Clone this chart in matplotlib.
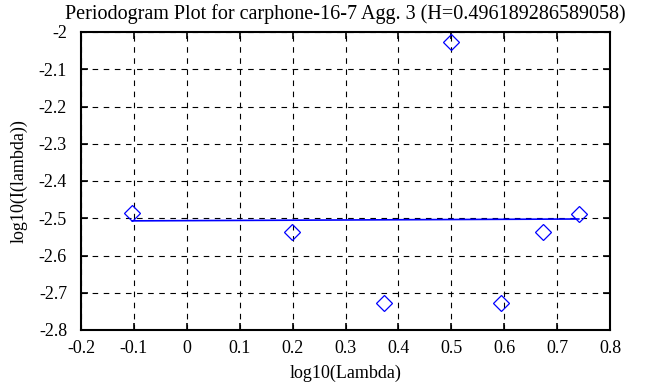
import matplotlib
matplotlib.use("Agg")
import matplotlib.pyplot as plt

# periodogram points
log_lambda = [-0.103, 0.198, 0.372, 0.499, 0.594, 0.674, 0.741]
log_I = [-2.487, -2.538, -2.728, -2.028, -2.727, -2.536, -2.489]

# least squares fit line end points
fit_x = [-0.103, 0.741]
fit_y = [-2.507, -2.502]

x_ticks = [-0.2, -0.1, 0, 0.1, 0.2, 0.3, 0.4, 0.5, 0.6, 0.7, 0.8]
x_tick_labels = ["-0.2", "-0.1", "0", "0.1", "0.2", "0.3", "0.4", "0.5", "0.6", "0.7", "0.8"]
y_ticks = [-2.8, -2.7, -2.6, -2.5, -2.4, -2.3, -2.2, -2.1, -2.0]
y_tick_labels = ["-2.8", "-2.7", "-2.6", "-2.5", "-2.4", "-2.3", "-2.2", "-2.1", "-2"]

title = "Periodogram Plot for carphone-16-7 Agg. 3 (H=0.496189286589058)"

plt.rcParams['font.family'] = ['Liberation Serif', 'DejaVu Serif']
plt.rcParams['font.size'] = 13

fig = plt.figure(figsize=(6.68, 3.87), dpi=100)
ax = fig.add_axes([81 / 668, 57 / 387, 529 / 668, 298 / 387])

ax.plot(fit_x, fit_y, color='#0000ff', linewidth=1.2)
ax.plot(log_lambda, log_I, linestyle='none', marker='D', markersize=8,
        markerfacecolor='none', markeredgecolor='#0000ff', markeredgewidth=0.9)

ax.set_xlim(-0.2, 0.8)
ax.set_ylim(-2.8, -2.0)
ax.set_xticks(x_ticks)
ax.set_xticklabels(x_tick_labels)
ax.set_yticks(y_ticks)
ax.set_yticklabels(y_tick_labels)
ax.tick_params(direction='in', length=5, width=1.2, top=True, right=True)
ax.tick_params(axis='x', pad=7)
ax.tick_params(axis='y', pad=10)
ax.grid(True, color='black', linestyle=(0, (5, 5)), linewidth=0.8)
for s in ax.spines.values():
    s.set_linewidth(1.5)

ax.set_xlabel("log10(Lambda)", labelpad=6)
ax.set_ylabel("log10(I(lambda))", labelpad=8)
ax.set_title(title, fontsize=14.5, pad=9)

fig.savefig("out.png", dpi=100)
